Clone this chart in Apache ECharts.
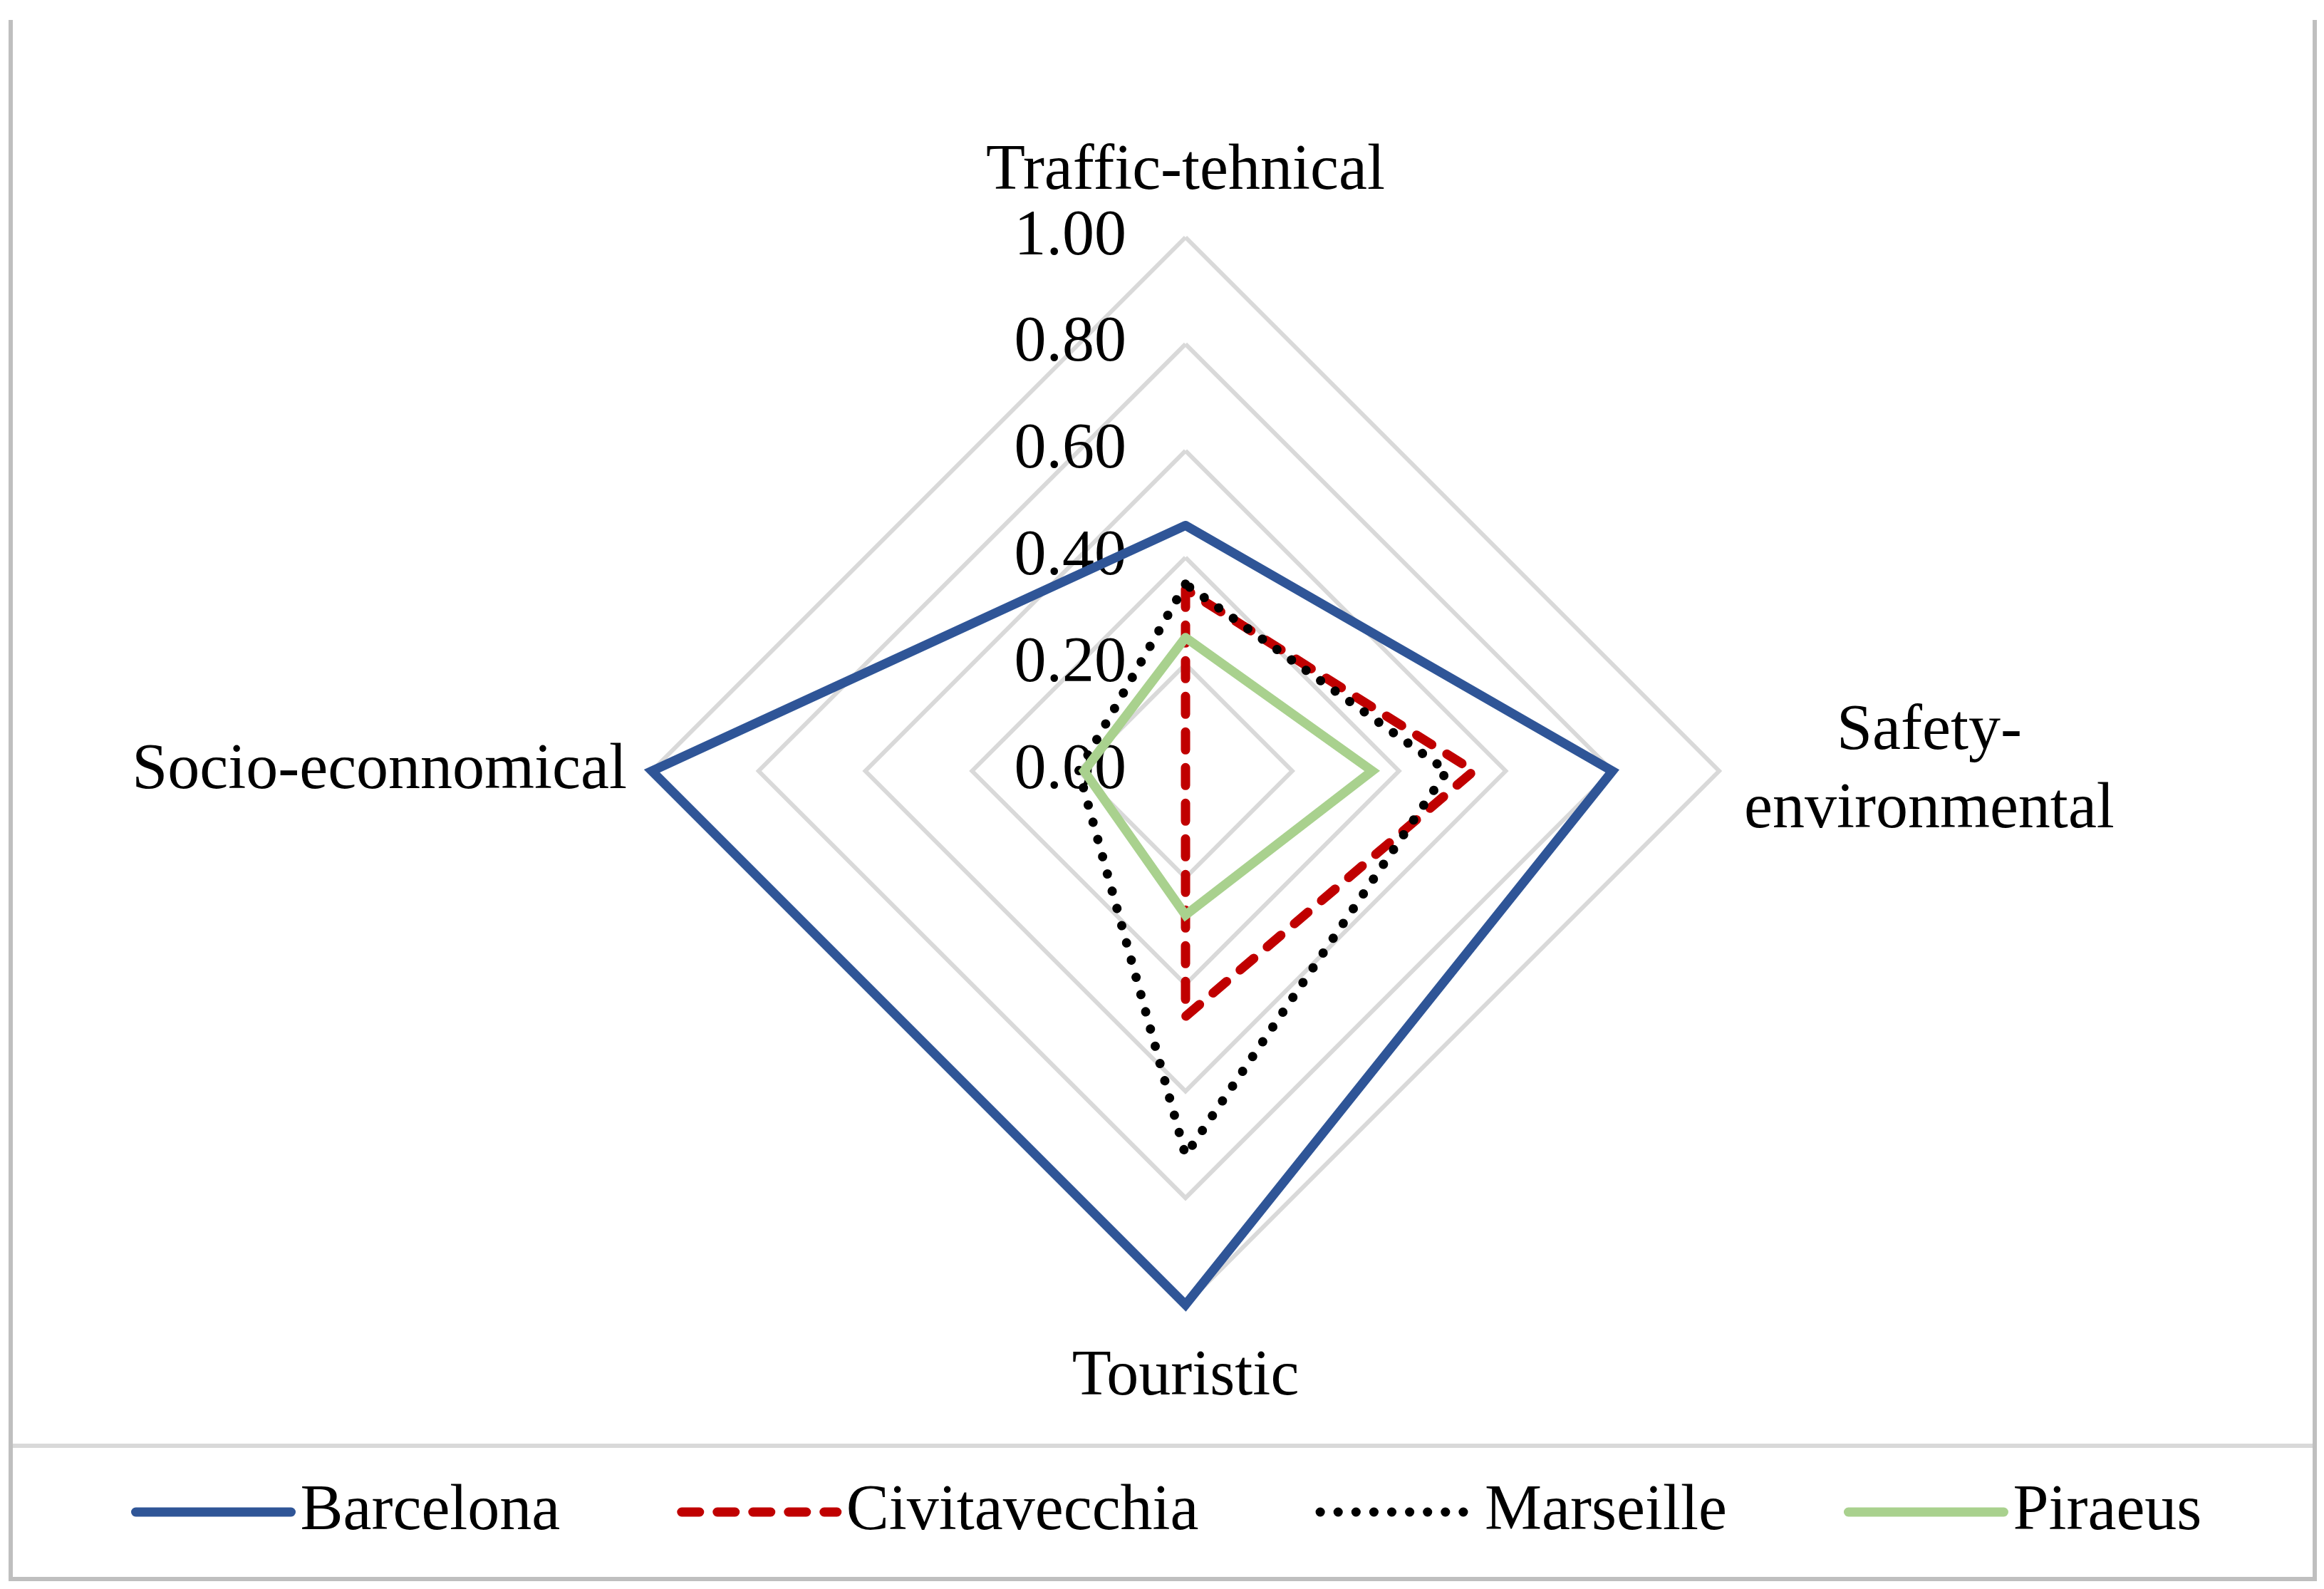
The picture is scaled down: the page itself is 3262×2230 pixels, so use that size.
<!DOCTYPE html>
<html>
<head>
<meta charset="utf-8">
<script src="https://cdn.jsdelivr.net/npm/echarts@6/dist/echarts.min.js"></script>
<style>
html,body{margin:0;padding:0;background:#fff;}
#chart{width:3262px;height:2230px;}
</style>
</head>
<body>
<div id="chart"></div>
<script>
// Indicator order follows ECharts radar direction (top, left, bottom, right)
const categories = ['Traffic-tehnical', 'Socio-econnomical', 'Touristic', 'Safety-environmental'];
const seriesNames = ['Barcelona', 'Civitavecchia', 'Marseille', 'Piraeus'];
const barcelona     = [0.46, 1.00, 1.00, 0.80];
const civitavecchia = [0.34, 0.00, 0.46, 0.54];
const marseille     = [0.35, 0.20, 0.72, 0.49];
const piraeus       = [0.25, 0.19, 0.27, 0.35];
const tickValues = [0.00, 0.20, 0.40, 0.60, 0.80, 1.00];

const FONT = '"Liberation Serif", "DejaVu Serif", serif';
const FS = 90;
const styles = {
  Barcelona:     {color: '#2f5597', width: 13, type: 'solid', cap: 'round', join: 'miter'},
  Civitavecchia: {color: '#c00000', width: 13, type: [25, 25], cap: 'round', join: 'round'},
  Marseille:     {color: '#000000', width: 13, type: [0.1, 25], cap: 'round', join: 'round'},
  Piraeus:       {color: '#a9d18e', width: 13, type: 'solid', cap: 'round', join: 'miter'}
};
const values = [barcelona, civitavecchia, marseille, piraeus];

const cx = 1664, cy = 1082, R = 749;

const chart = echarts.init(document.getElementById('chart'), null, {renderer: 'canvas'});

const legendLineSeries = seriesNames.map(n => ({
  type: 'line', name: n, data: [], symbol: 'none',
  xAxisIndex: 0, yAxisIndex: 0,
  lineStyle: styles[n], itemStyle: {color: styles[n].color}
}));

chart.setOption({
  backgroundColor: '#ffffff',
  animation: false,
  textStyle: {fontFamily: FONT},
  graphic: [
    {type: 'line', shape: {x1: 15, y1: 28, x2: 15, y2: 2218}, style: {stroke: '#bfbfbf', lineWidth: 6}},
    {type: 'line', shape: {x1: 3249, y1: 28, x2: 3249, y2: 2218}, style: {stroke: '#bfbfbf', lineWidth: 6}},
    {type: 'line', shape: {x1: 12, y1: 2216, x2: 3252, y2: 2216}, style: {stroke: '#bfbfbf', lineWidth: 6}},
    {type: 'line', shape: {x1: 18, y1: 2029, x2: 3246, y2: 2029}, style: {stroke: '#d9d9d9', lineWidth: 6}}
  ],
  legend: {
    data: seriesNames,
    left: 179, top: 2072,
    itemWidth: 218, itemHeight: 20, itemGap: 164,
    lineStyle: {width: 13},
    itemStyle: {opacity: 0},
    textStyle: {fontFamily: FONT, fontSize: FS, color: '#000', padding: [0, 0, 0, 8]}
  },
  grid: {left: cx, top: cy - R, width: 10, height: R, containLabel: false},
  xAxis: {type: 'value', show: false, min: 0, max: 1},
  yAxis: {
    type: 'value', min: tickValues[0], max: tickValues[tickValues.length - 1],
    interval: tickValues[1] - tickValues[0], z: 1,
    axisLine: {show: false}, axisTick: {show: false}, splitLine: {show: false},
    axisLabel: {
      margin: 83, fontSize: FS, fontFamily: FONT, color: '#000',
      formatter: v => v.toFixed(2)
    }
  },
  radar: {
    center: [cx, cy], radius: R, startAngle: 90, splitNumber: 5, shape: 'polygon',
    indicator: categories.map(c => ({name: c, min: 0, max: 1})),
    nameGap: 35,
    axisName: {
      color: '#000', fontFamily: FONT, fontSize: FS,
      formatter: function (name) {
        if (name === 'Traffic-tehnical') return '{top|' + name + '}';
        if (name === 'Touristic') return '{bot|' + name + '}';
        if (name.indexOf('Safety') === 0) {
          const parts = name.split('-');
          return '{c|' + parts[0] + '-}\n{c|' + parts[1] + '}';
        }
        return name;
      },
      rich: {
        top: {fontSize: FS, fontFamily: FONT, color: '#000', padding: [0, 0, 12, 0]},
        bot: {fontSize: FS, fontFamily: FONT, color: '#000', padding: [22, 0, 0, 0]},
        c: {fontSize: FS, fontFamily: FONT, color: '#000', align: 'center', lineHeight: 110}
      }
    },
    axisLine: {show: false},
    axisTick: {show: false},
    axisLabel: {show: false},
    splitArea: {show: false},
    splitLine: {lineStyle: {color: '#d9d9d9', width: 6}}
  },
  series: legendLineSeries.concat([{
    type: 'radar', z: 3, symbol: 'none',
    data: seriesNames.map((n, i) => ({
      name: n, value: values[i],
      lineStyle: styles[n], itemStyle: {color: styles[n].color}
    }))
  }])
});
</script>
</body>
</html>
